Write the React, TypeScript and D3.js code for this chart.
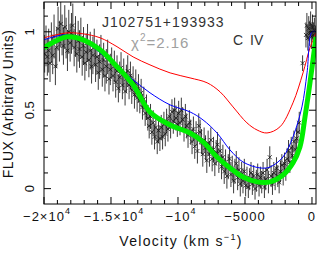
import React from 'react';
import * as d3 from 'd3';

// observed spectrum: [velocity km/s, flux, 1-sigma error]
const obsPoints: [number, number, number][] = [
  [-19950, 0.86, 0.12], [-19850, 0.91, 0.13], [-19750, 0.84, 0.12], [-19650, 0.88, 0.14],
  [-19550, 0.80, 0.12], [-19450, 0.93, 0.13], [-19350, 0.85, 0.12], [-19250, 0.97, 0.14],
  [-19150, 0.78, 0.12], [-19050, 0.90, 0.13], [-18950, 1.02, 0.14], [-18850, 0.94, 0.13],
  [-18750, 1.05, 0.15], [-18650, 0.98, 0.13], [-18550, 0.91, 0.12], [-18450, 1.03, 0.14],
  [-18350, 0.96, 0.13], [-18250, 0.88, 0.13], [-18150, 1.00, 0.14], [-18050, 0.93, 0.12],
  [-17950, 0.99, 0.13], [-17850, 1.04, 0.14], [-17750, 0.90, 0.12], [-17650, 0.97, 0.13],
  [-17550, 0.86, 0.12], [-17450, 0.94, 0.13], [-17350, 0.89, 0.12], [-17250, 0.96, 0.13],
  [-17150, 0.84, 0.12], [-17050, 0.91, 0.12], [-16950, 0.80, 0.11], [-16850, 0.87, 0.12],
  [-16750, 0.93, 0.12], [-16650, 0.82, 0.11], [-16550, 0.88, 0.12], [-16450, 0.78, 0.11],
  [-16350, 0.85, 0.12], [-16250, 0.90, 0.12], [-16150, 0.79, 0.11], [-16050, 0.84, 0.11],
  [-15950, 0.74, 0.11], [-15850, 0.81, 0.11], [-15750, 0.86, 0.12], [-15650, 0.76, 0.11],
  [-15550, 0.82, 0.11], [-15450, 0.72, 0.10], [-15350, 0.78, 0.11], [-15250, 0.84, 0.11],
  [-15150, 0.70, 0.10], [-15050, 0.76, 0.10],
  [-14950, 0.80, 0.10], [-14850, 0.72, 0.10], [-14750, 0.78, 0.10], [-14650, 0.68, 0.10],
  [-14550, 0.75, 0.10], [-14450, 0.64, 0.09], [-14350, 0.71, 0.10], [-14250, 0.77, 0.10],
  [-14150, 0.66, 0.09], [-14050, 0.73, 0.10], [-13950, 0.62, 0.09], [-13850, 0.70, 0.09],
  [-13750, 0.75, 0.10], [-13650, 0.66, 0.09], [-13550, 0.72, 0.09], [-13450, 0.63, 0.09],
  [-13350, 0.69, 0.09], [-13250, 0.60, 0.09], [-13150, 0.67, 0.09], [-13050, 0.58, 0.09],
  [-12950, 0.64, 0.09], [-12850, 0.56, 0.08], [-12750, 0.61, 0.09], [-12650, 0.52, 0.08],
  [-12550, 0.57, 0.08], [-12450, 0.48, 0.08], [-12350, 0.52, 0.08], [-12250, 0.45, 0.08],
  [-12150, 0.40, 0.08], [-12050, 0.46, 0.08], [-11950, 0.36, 0.08], [-11850, 0.42, 0.08],
  [-11750, 0.33, 0.08], [-11650, 0.39, 0.08], [-11550, 0.30, 0.08], [-11450, 0.37, 0.08],
  [-11350, 0.32, 0.08], [-11250, 0.39, 0.08], [-11150, 0.33, 0.08], [-11050, 0.41, 0.08],
  [-10950, 0.35, 0.08], [-10850, 0.43, 0.08], [-10750, 0.38, 0.08], [-10650, 0.46, 0.08],
  [-10550, 0.40, 0.08], [-10450, 0.49, 0.08], [-10350, 0.43, 0.08], [-10250, 0.50, 0.08],
  [-10150, 0.45, 0.08], [-10050, 0.41, 0.08],
  [-9950, 0.48, 0.08], [-9850, 0.42, 0.08], [-9750, 0.50, 0.08], [-9650, 0.44, 0.08],
  [-9550, 0.38, 0.08], [-9450, 0.46, 0.08], [-9350, 0.40, 0.08], [-9250, 0.34, 0.08],
  [-9150, 0.42, 0.08], [-9050, 0.36, 0.08], [-8950, 0.30, 0.08], [-8850, 0.38, 0.08],
  [-8750, 0.27, 0.08], [-8650, 0.35, 0.08], [-8550, 0.24, 0.08], [-8450, 0.40, 0.08],
  [-8350, 0.36, 0.08], [-8250, 0.30, 0.08], [-8150, 0.22, 0.08], [-8050, 0.31, 0.08],
  [-7950, 0.26, 0.08], [-7850, 0.18, 0.08], [-7750, 0.29, 0.08], [-7650, 0.22, 0.08],
  [-7550, 0.31, 0.08], [-7450, 0.19, 0.08], [-7350, 0.25, 0.08], [-7250, 0.16, 0.08],
  [-7150, 0.23, 0.08], [-7050, 0.28, 0.08], [-6950, 0.18, 0.08], [-6850, 0.24, 0.08],
  [-6750, 0.14, 0.08], [-6650, 0.20, 0.08], [-6550, 0.11, 0.08], [-6450, 0.17, 0.08],
  [-6350, 0.08, 0.08], [-6250, 0.14, 0.08], [-6150, 0.19, 0.08], [-6050, 0.09, 0.08],
  [-5950, 0.13, 0.08], [-5850, 0.05, 0.08], [-5750, 0.11, 0.08], [-5650, 0.16, 0.08],
  [-5550, 0.07, 0.08], [-5450, 0.12, 0.08], [-5350, 0.03, 0.08], [-5250, 0.09, 0.08],
  [-5150, 0.05, 0.08], [-5050, 0.11, 0.08],
  [-4950, 0.02, 0.07], [-4850, 0.07, 0.07], [-4750, 0.01, 0.07], [-4650, 0.06, 0.07],
  [-4550, 0.10, 0.07], [-4450, 0.03, 0.07], [-4350, 0.08, 0.07], [-4250, 0.00, 0.07],
  [-4150, 0.05, 0.07], [-4050, 0.09, 0.07], [-3950, 0.02, 0.07], [-3850, 0.07, 0.07],
  [-3750, 0.04, 0.07], [-3650, 0.10, 0.07], [-3550, 0.01, 0.07], [-3450, 0.06, 0.07],
  [-3350, 0.12, 0.07], [-3250, 0.04, 0.07], [-3150, 0.20, 0.07], [-3050, 0.08, 0.07],
  [-2950, 0.03, 0.07], [-2850, 0.10, 0.07], [-2750, 0.06, 0.07], [-2650, 0.13, 0.07],
  [-2550, 0.08, 0.07], [-2450, 0.04, 0.07], [-2350, 0.11, 0.07], [-2250, 0.15, 0.07],
  [-2150, 0.09, 0.07], [-2050, 0.16, 0.07], [-1950, 0.12, 0.07], [-1850, 0.19, 0.07],
  [-1750, 0.24, 0.07], [-1650, 0.17, 0.07], [-1550, 0.26, 0.07], [-1450, 0.21, 0.07],
  [-1350, 0.30, 0.07], [-1250, 0.25, 0.07], [-1150, 0.32, 0.07], [-1050, 0.36, 0.07],
  [-950, 0.42, 0.07], [-700, 0.80, 0.05],
  [-450, 0.98, 0.08], [-380, 1.04, 0.08], [-310, 0.96, 0.08], [-240, 1.02, 0.08],
  [-170, 0.99, 0.08], [-100, 1.05, 0.08], [-30, 0.97, 0.08], [40, 1.03, 0.08],
  [110, 0.98, 0.08], [180, 1.01, 0.08], [250, 0.96, 0.08],
];

// model curves [velocity, flux]
const greenFit: [number, number][] = [
  [-20000, 0.898], [-18280, 0.968], [-17080, 0.949], [-15820, 0.885], [-14550, 0.777],
  [-13350, 0.662], [-12090, 0.489], [-10590, 0.406], [-9100, 0.355], [-8130, 0.298],
  [-7090, 0.202], [-6120, 0.132], [-5150, 0.074], [-4100, 0.043], [-3130, 0.043],
  [-2160, 0.087], [-1420, 0.164], [-900, 0.266], [-520, 0.458], [-150, 0.675], [300, 0.968],
];
const redFit: [number, number][] = [
  [-20000, 0.962], [-18280, 0.993], [-17080, 0.987], [-15820, 0.962], [-14550, 0.905],
  [-13350, 0.840], [-12090, 0.789], [-10590, 0.738], [-9100, 0.706], [-7830, 0.675],
  [-6860, 0.617], [-5890, 0.521], [-4850, 0.419], [-4100, 0.374], [-3360, 0.355],
  [-2390, 0.394], [-1420, 0.547], [-670, 0.738], [-150, 0.898], [300, 0.993],
];
const blueFit: [number, number][] = [
  [-20000, 0.949], [-18280, 0.981], [-16790, 0.930], [-15820, 0.866], [-14550, 0.777],
  [-13350, 0.694], [-12090, 0.611], [-10590, 0.534], [-9100, 0.489], [-8130, 0.438],
  [-7090, 0.355], [-6120, 0.247], [-5150, 0.170], [-3880, 0.132], [-3130, 0.138],
  [-2160, 0.202], [-1420, 0.330], [-750, 0.521], [-370, 0.738], [0, 1.0], [300, 1.0],
];

const xMajor = [-20000, -15000, -10000, -5000, 0];
const xLabels: [string, string][] = [['\u22122\u00d710', '4'], ['\u22121.5\u00d710', '4'], ['\u221210', '4'], ['\u22125000', ''], ['0', '']];
const yMajor = [0, 0.5, 1];
const yLabels = ['0', '0.5', '1'];

const W = 322, H = 255;
const m = { left: 44, right: 316, top: 2, bottom: 204 };
const font = 'Liberation Sans, Arial, sans-serif';

const App: React.FC = () => {
  const x = d3.scaleLinear().domain([-20000, 300]).range([m.left, m.right]);
  const y = d3.scaleLinear().domain([-0.098, 1.19]).range([m.bottom, m.top]);
  const line = d3.line<[number, number]>()
    .x(d => x(d[0]))
    .y(d => y(d[1]))
    .curve(d3.curveCatmullRom.alpha(0.5));

  const xMinor = x.ticks(20);
  const yMinor = y.ticks(12).filter(v => v >= 0);

  return (
    <svg width={W} height={H} style={{ position: 'absolute', left: 0, top: 0, background: '#fff' }}>
      <defs>
        <clipPath id="plot">
          <rect x={m.left} y={m.top} width={m.right - m.left} height={m.bottom - m.top} />
        </clipPath>
      </defs>

      <g clipPath="url(#plot)">
        {obsPoints.map(([v, f, e], i) => (
          <line key={'e' + i} x1={x(v)} x2={x(v)} y1={y(f - e)} y2={y(f + e)} stroke="#3a3a3a" strokeWidth={1} />
        ))}
        {obsPoints.map(([v, f], i) => {
          const cx = x(v), cy = y(f), s = 2;
          return (
            <path key={'p' + i} d={`M${cx - s},${cy - s}L${cx + s},${cy + s}M${cx - s},${cy + s}L${cx + s},${cy - s}`}
              stroke="#111" strokeWidth={0.8} fill="none" />
          );
        })}
        <path d={line(redFit) || ''} fill="none" stroke="#ff0000" strokeWidth={1} />
        <path d={line(blueFit) || ''} fill="none" stroke="#0000ff" strokeWidth={1} />
        <path d={line(greenFit) || ''} fill="none" stroke="#00ee00" strokeWidth={5} />
      </g>

      <rect x={m.left} y={m.top} width={m.right - m.left} height={m.bottom - m.top} fill="none" stroke="#000" strokeWidth={1} />

      {xMinor.map(v => {
        const len = xMajor.includes(v) ? 7 : 4;
        return (
          <g key={'xt' + v}>
            <line x1={x(v)} x2={x(v)} y1={m.bottom} y2={m.bottom - len} stroke="#000" />
            <line x1={x(v)} x2={x(v)} y1={m.top} y2={m.top + len} stroke="#000" />
          </g>
        );
      })}
      {yMinor.map(v => {
        const len = yMajor.some(t => Math.abs(t - v) < 1e-9) ? 7 : 4;
        return (
          <g key={'yt' + v}>
            <line x1={m.left} x2={m.left + len} y1={y(v)} y2={y(v)} stroke="#000" />
            <line x1={m.right} x2={m.right - len} y1={y(v)} y2={y(v)} stroke="#000" />
          </g>
        );
      })}

      {xMajor.map((v, i) => (
        <text key={'xl' + v} x={x(v) + (xLabels[i][1] ? 3 : 0)} y={221} fontFamily={font} fontSize={13}
          letterSpacing={1} textAnchor="middle" fill="#111">
          {xLabels[i][0]}
          {xLabels[i][1] && <tspan fontSize={9} dy={-7}>{xLabels[i][1]}</tspan>}
        </text>
      ))}
      {yMajor.map((v, i) => (
        <text key={'yl' + v} transform={`translate(34,${y(v)}) rotate(-90)`} fontFamily={font} fontSize={13}
          textAnchor="middle" fill="#111">{yLabels[i]}</text>
      ))}

      <text x={181} y={246} fontFamily={font} fontSize={14} letterSpacing={1.3} textAnchor="middle" fill="#111">
        Velocity (km s<tspan fontSize={9} dy={-6}>{'\u22121'}</tspan><tspan dy={6}>)</tspan>
      </text>
      <text transform={`translate(13,104) rotate(-90)`} fontFamily={font} fontSize={14} letterSpacing={0.5}
        textAnchor="middle" fill="#111">FLUX (Arbitrary Units)</text>

      <text x={102} y={27} fontFamily={font} fontSize={14} letterSpacing={1} fill="#333">J102751+193933</text>
      <text x={131} y={48} fontFamily={font} fontSize={15} letterSpacing={1} fill="#a0a0a0">
        {'\u03c7'}<tspan fontSize={10} dy={-7}>2</tspan><tspan dy={7}>=2.16</tspan>
      </text>
      <text x={233} y={45} fontFamily={font} fontSize={14} fill="#333">C</text>
      <text x={250} y={45} fontFamily={font} fontSize={14} fill="#333">IV</text>
    </svg>
  );
};

export default App;
